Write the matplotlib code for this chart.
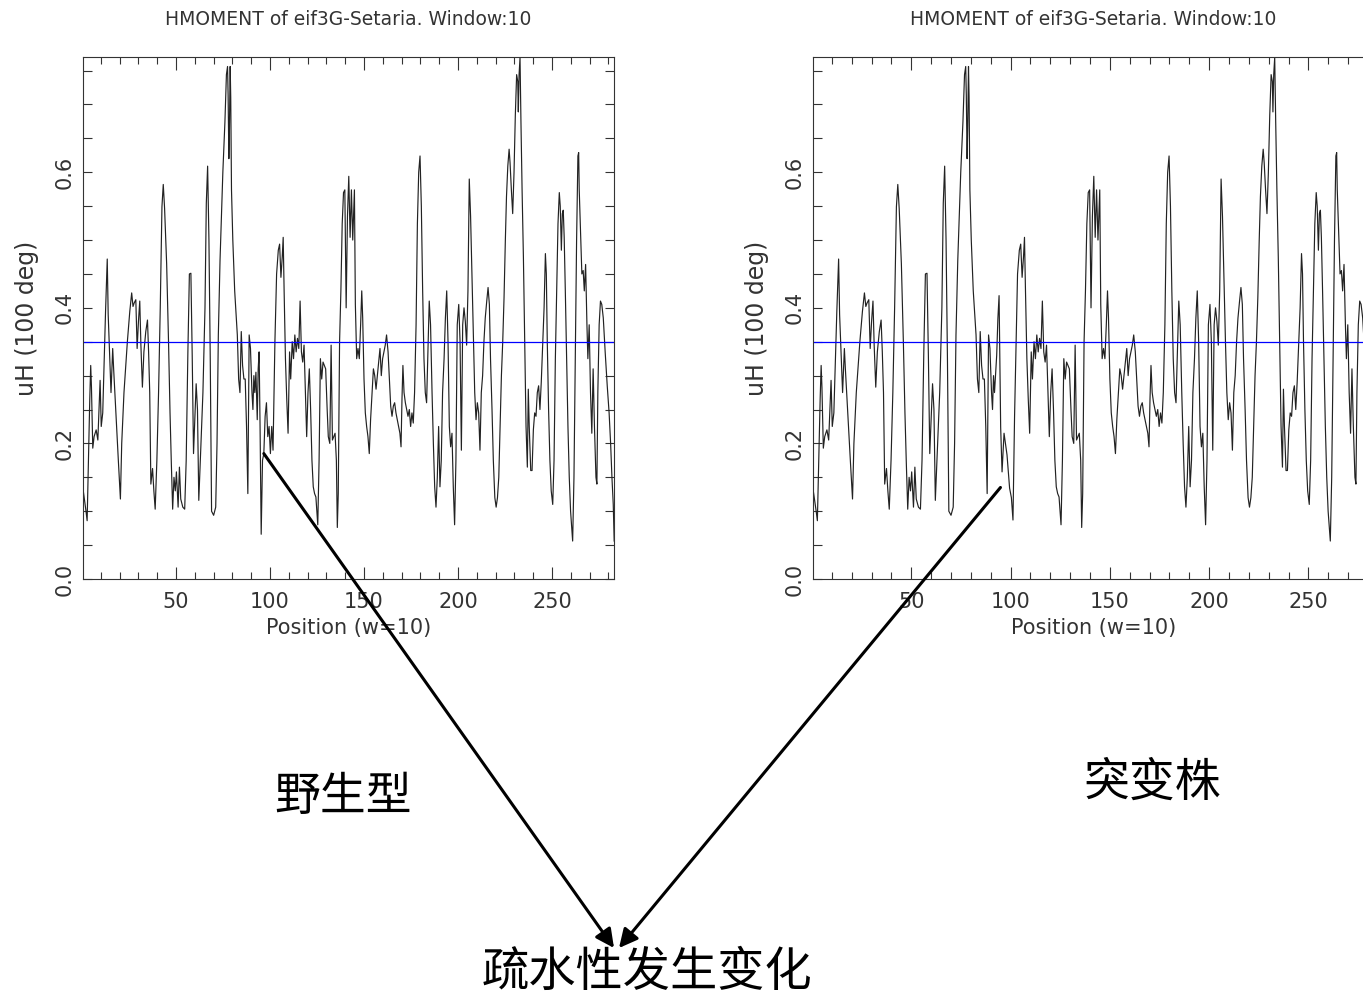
import matplotlib
matplotlib.use("Agg")
import matplotlib.pyplot as plt
from matplotlib.ticker import MultipleLocator, FormatStrFormatter

# ---------------- data ----------------
title_text = "HMOMENT of eif3G-Setaria. Window:10"
xlabel_text = "Position (w=10)"
ylabel_text = "uH (100 deg)"
threshold = 0.35
label_wild = "野生型"
label_mut = "突变株"
label_change = "疏水性发生变化"

wild_pos = [0.5, 2.1, 2.7, 3.6, 4.1, 4.6, 5.0, 5.7, 6.4, 7.5, 8.4, 9.3, 9.6, 10.2, 11.0, 11.8,
            12.5, 13.4, 13.9, 14.6, 15.4, 16.3, 16.8, 17.9, 19.3, 20.4, 21.1, 22.3, 24.1, 25.4,
            26.4, 27.1, 27.7, 28.6, 29.3, 30.0, 30.7, 31.3, 32.1, 32.9, 33.9, 34.8, 35.4, 36.0,
            36.6, 37.5, 38.2, 38.9, 39.8, 40.7, 41.6, 42.5, 43.2, 43.9, 45.0, 46.0, 46.8, 47.5,
            48.2, 48.9, 49.6, 50.2, 51.1, 51.8, 52.5, 53.6, 54.6, 55.4, 56.3, 57.1, 57.9, 58.6,
            59.3, 60.0, 60.7, 61.4, 62.1, 62.9, 64.3, 65.4, 66.1, 66.8, 67.5, 68.2, 68.9, 70.0,
            71.1, 71.8, 72.5, 73.4, 74.9, 76.0, 76.8, 77.4, 77.7, 78.1, 78.4, 78.8, 79.1, 79.5,
            80.2, 81.2, 82.6, 83.3, 84.0, 84.7, 85.4, 86.1, 86.8, 87.5, 88.2, 88.9, 89.6, 90.4,
            90.9, 91.4, 91.9, 92.5, 93.2, 93.7, 94.2, 94.7, 95.3, 96.0, 96.7, 97.4, 98.1, 98.8,
            99.5, 100.2, 100.9, 101.6, 102.6, 103.5, 104.4, 105.1, 105.8, 106.5, 107.0, 107.5,
            108.2, 108.9, 109.6, 110.4, 111.0, 111.8, 112.5, 113.2, 113.9, 114.6, 115.3, 116.0,
            116.7, 117.4, 118.1, 118.8, 119.5, 120.2, 120.9, 121.6, 122.3, 123.0, 123.7, 124.4,
            124.9, 125.4, 126.1, 126.8, 127.5, 128.2, 128.9, 129.6, 130.4, 131.0, 131.8, 132.5,
            133.2, 133.9, 134.6, 135.3, 135.8, 136.3, 137.0, 137.7, 138.4, 139.1, 139.8, 140.5,
            141.2, 141.9, 142.6, 143.3, 144.0, 144.9, 145.4, 146.1, 146.8, 147.5, 148.2, 148.8,
            149.3, 150.0, 150.7, 151.4, 152.1, 152.8, 153.5, 154.3, 155.0, 155.7, 156.4, 157.1,
            157.8, 158.5, 159.2, 159.9, 160.6, 161.3, 162.0, 162.8, 163.5, 164.2, 164.9, 165.6,
            166.3, 167.0, 167.7, 168.4, 169.1, 169.7, 170.2, 170.7, 171.3, 172.0, 172.7, 173.4,
            174.1, 174.8, 175.5, 176.2, 176.9, 177.7, 178.4, 179.1, 179.8, 180.5, 181.2, 181.9,
            182.6, 183.3, 184.0, 184.7, 185.4, 186.2, 186.9, 187.6, 188.3, 189.0, 189.7, 190.4,
            191.1, 191.8, 192.6, 193.3, 194.0, 194.7, 195.4, 196.1, 196.8, 197.5, 198.2, 198.9,
            199.6, 200.4, 201.1, 201.8, 202.5, 203.2, 203.9, 204.6, 205.3, 206.0, 206.7, 207.4,
            208.2, 208.9, 209.6, 210.3, 211.0, 211.7, 212.4, 213.1, 213.8, 214.5, 215.3, 216.0,
            216.7, 217.3, 218.1, 218.8, 219.6, 220.3, 221.0, 221.7, 222.4, 223.1, 223.8, 224.5,
            225.2, 225.8, 226.5, 227.2, 227.7, 228.4, 229.1, 229.8, 230.5, 231.2, 231.8, 232.1,
            232.5, 233.0, 233.5, 234.1, 234.8, 235.5, 236.2, 236.9, 237.4, 237.9, 238.7, 239.4,
            240.1, 240.8, 241.5, 242.2, 242.9, 243.6, 244.3, 245.0, 245.8, 246.5, 247.0, 247.5,
            248.2, 248.9, 249.6, 250.4, 251.1, 251.8, 252.5, 253.2, 253.9, 254.4, 255.0, 255.5,
            256.0, 256.5, 257.1, 257.8, 258.5, 259.2, 259.9, 261.0, 261.7, 262.4, 263.1, 263.8,
            264.2, 264.5, 265.2, 265.9, 266.6, 267.2, 267.9, 268.6, 269.1, 269.8, 270.5, 271.2,
            271.9, 272.6, 273.4, 273.9, 274.4, 275.1, 275.8, 276.5, 277.3, 278.3, 279.4, 280.4,
            281.2, 281.9, 282.6, 283.1]

wild_val = [0.133, 0.100, 0.086, 0.200, 0.265, 0.315, 0.283, 0.193, 0.210, 0.220, 0.205, 0.270,
            0.293, 0.225, 0.245, 0.325, 0.395, 0.472, 0.390, 0.335, 0.275, 0.340, 0.310, 0.250,
            0.175, 0.118, 0.200, 0.275, 0.350, 0.395, 0.422, 0.402, 0.407, 0.412, 0.340, 0.380,
            0.410, 0.345, 0.283, 0.335, 0.365, 0.382, 0.335, 0.275, 0.140, 0.163, 0.130, 0.103,
            0.175, 0.275, 0.400, 0.549, 0.582, 0.547, 0.465, 0.350, 0.245, 0.170, 0.103, 0.150,
            0.130, 0.158, 0.106, 0.165, 0.118, 0.106, 0.103, 0.175, 0.335, 0.450, 0.451, 0.330,
            0.185, 0.235, 0.288, 0.250, 0.116, 0.175, 0.275, 0.400, 0.554, 0.609, 0.500, 0.325,
            0.100, 0.094, 0.106, 0.200, 0.360, 0.470, 0.600, 0.674, 0.744, 0.756, 0.714, 0.620,
            0.664, 0.756, 0.710, 0.574, 0.500, 0.425, 0.360, 0.295, 0.275, 0.365, 0.315, 0.295,
            0.295, 0.225, 0.126, 0.360, 0.340, 0.275, 0.250, 0.300, 0.275, 0.305, 0.235, 0.310,
            0.335, 0.225, 0.066, 0.175, 0.185, 0.240, 0.260, 0.210, 0.225, 0.185, 0.225, 0.190,
            0.350, 0.450, 0.485, 0.494, 0.445, 0.475, 0.504, 0.425, 0.325, 0.265, 0.215, 0.335,
            0.295, 0.350, 0.325, 0.360, 0.335, 0.355, 0.340, 0.410, 0.335, 0.320, 0.345, 0.275,
            0.210, 0.275, 0.310, 0.250, 0.175, 0.136, 0.126, 0.121, 0.100, 0.080, 0.175, 0.325,
            0.295, 0.320, 0.315, 0.310, 0.250, 0.210, 0.200, 0.345, 0.205, 0.210, 0.215, 0.175,
            0.076, 0.126, 0.350, 0.425, 0.524, 0.570, 0.574, 0.400, 0.535, 0.594, 0.504, 0.574,
            0.500, 0.574, 0.405, 0.325, 0.340, 0.325, 0.375, 0.425, 0.385, 0.295, 0.245, 0.225,
            0.210, 0.185, 0.235, 0.275, 0.310, 0.300, 0.280, 0.300, 0.320, 0.340, 0.300, 0.325,
            0.335, 0.345, 0.360, 0.335, 0.295, 0.255, 0.240, 0.255, 0.260, 0.245, 0.235, 0.225,
            0.215, 0.195, 0.265, 0.315, 0.275, 0.260, 0.250, 0.240, 0.250, 0.225, 0.245, 0.230,
            0.275, 0.375, 0.524, 0.600, 0.624, 0.550, 0.425, 0.325, 0.275, 0.260, 0.335, 0.410,
            0.375, 0.275, 0.200, 0.136, 0.106, 0.150, 0.225, 0.136, 0.175, 0.275, 0.325, 0.385,
            0.425, 0.350, 0.225, 0.195, 0.215, 0.136, 0.080, 0.175, 0.375, 0.405, 0.350, 0.190,
            0.375, 0.400, 0.380, 0.345, 0.425, 0.590, 0.535, 0.450, 0.350, 0.275, 0.235, 0.260,
            0.245, 0.190, 0.275, 0.300, 0.350, 0.385, 0.410, 0.430, 0.405, 0.325, 0.250, 0.175,
            0.120, 0.106, 0.120, 0.150, 0.225, 0.300, 0.350, 0.415, 0.500, 0.564, 0.609, 0.634,
            0.614, 0.574, 0.539, 0.599, 0.684, 0.744, 0.734, 0.689, 0.744, 0.769, 0.674, 0.574,
            0.475, 0.350, 0.225, 0.165, 0.280, 0.225, 0.160, 0.160, 0.220, 0.245, 0.240, 0.275,
            0.285, 0.250, 0.290, 0.340, 0.400, 0.480, 0.450, 0.350, 0.250, 0.175, 0.130, 0.110,
            0.175, 0.325, 0.425, 0.524, 0.570, 0.550, 0.485, 0.539, 0.544, 0.504, 0.425, 0.325,
            0.225, 0.150, 0.100, 0.056, 0.150, 0.325, 0.500, 0.624, 0.629, 0.574, 0.514, 0.450,
            0.455, 0.425, 0.464, 0.375, 0.325, 0.375, 0.275, 0.215, 0.310, 0.225, 0.150, 0.140,
            0.275, 0.375, 0.410, 0.405, 0.385, 0.335, 0.285, 0.245, 0.200, 0.150, 0.110, 0.056]

# mutant differs from the wild type only in the stretch around positions 92-103
mut_seg_pos = [93.0, 93.6, 94.2, 95.0, 95.7, 96.7, 97.4, 98.2, 99.5, 100.4, 101.2, 102.0]
mut_seg_val = [0.330, 0.384, 0.418, 0.224, 0.158, 0.215, 0.200, 0.183, 0.134, 0.120, 0.087, 0.240]
mut_seg_start, mut_seg_end = 92.6, 102.7

# arrow anchor points on the curves (data coordinates)
wild_arrow_pt = (96.7, 0.185)
mut_arrow_pt = (94.9, 0.135)

mut_pos = [p for p in wild_pos if p < mut_seg_start] + mut_seg_pos + \
          [p for p in wild_pos if p > mut_seg_end]
mut_val = [v for p, v in zip(wild_pos, wild_val) if p < mut_seg_start] + mut_seg_val + \
          [v for p, v in zip(wild_pos, wild_val) if p > mut_seg_end]

# ---------------- figure ----------------
W, H = 1363, 1000
fig = plt.figure(figsize=(W / 100, H / 100), dpi=100)
fig.patch.set_facecolor("white")

lat_font = ["DejaVu Sans"]
cjk_font = ["Noto Sans CJK SC", "DejaVu Sans"]
txt_color = "#333333"


def setup_axes(ax, pos, val):
    ax.plot(pos, val, color="#222222", lw=0.85)
    ax.axhline(threshold, color="#0000ff", lw=0.9)
    ax.set_xlim(0.5, 283)
    ax.set_ylim(0, 0.77)
    ax.xaxis.set_major_locator(MultipleLocator(50))
    ax.xaxis.set_minor_locator(MultipleLocator(10))
    ax.yaxis.set_major_locator(MultipleLocator(0.2))
    ax.yaxis.set_minor_locator(MultipleLocator(0.05))
    ax.yaxis.set_major_formatter(FormatStrFormatter("%.1f"))
    ax.tick_params(which="both", direction="in", top=True, right=True, colors="#333333",
                   width=0.8)
    ax.tick_params(axis="x", which="major", length=9, pad=9)
    ax.tick_params(axis="x", which="minor", length=5)
    ax.tick_params(axis="y", which="both", length=6.5, pad=6)
    for lab in ax.get_xticklabels():
        lab.set_family(lat_font)
        lab.set_fontsize(15)
        lab.set_color(txt_color)
    for lab in ax.get_yticklabels():
        lab.set_family(lat_font)
        lab.set_fontsize(15)
        lab.set_color(txt_color)
        lab.set_rotation(90)
        lab.set_va("center")
    for sp in ax.spines.values():
        sp.set_color("#333333")
        sp.set_linewidth(0.8)
    ax.set_xlabel(xlabel_text, family=lat_font, fontsize=15, color=txt_color, labelpad=5)
    ax.set_ylabel(ylabel_text, family=lat_font, fontsize=17, color=txt_color, labelpad=11)
    ax.set_title(title_text, family=lat_font, fontsize=13.5, color=txt_color, pad=23)


ax1 = fig.add_axes([83 / W, 1 - 579 / H, 531 / W, 522 / H])
setup_axes(ax1, wild_pos, wild_val)
ax2 = fig.add_axes([813 / W, 1 - 579 / H, 561 / W, 522 / H])
setup_axes(ax2, mut_pos, mut_val)

# Chinese annotations
fig.text(343 / W, 1 - 797 / H, label_wild, family=cjk_font, fontsize=33,
         ha="center", va="center", color="black")
fig.text(1152 / W, 1 - 783 / H, label_mut, family=cjk_font, fontsize=33,
         ha="center", va="center", color="black")
fig.text(647 / W, 1 - 973 / H, label_change, family=cjk_font, fontsize=34,
         ha="center", va="center", color="black")

arrow_kw = dict(arrowstyle="-|>", color="black", lw=2.2, mutation_scale=28,
                shrinkA=0, shrinkB=0)
ax1.annotate("", xy=(614, H - 948), xycoords="figure pixels",
             xytext=wild_arrow_pt, textcoords="data",
             arrowprops=arrow_kw, annotation_clip=False)
ax2.annotate("", xy=(619, H - 948), xycoords="figure pixels",
             xytext=mut_arrow_pt, textcoords="data",
             arrowprops=arrow_kw, annotation_clip=False)

fig.savefig("out.png", dpi=100, facecolor="white")
